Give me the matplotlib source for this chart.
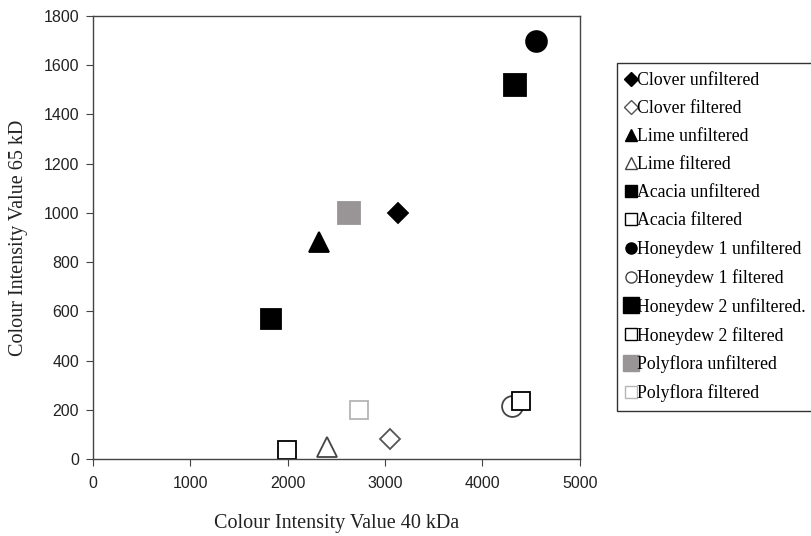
import matplotlib.pyplot as plt
from matplotlib.lines import Line2D

# series, in legend order
labels = [
    "Clover unfiltered", "Clover filtered",
    "Lime unfiltered", "Lime filtered",
    "Acacia unfiltered", "Acacia filtered",
    "Honeydew 1 unfiltered", "Honeydew 1 filtered",
    "Honeydew 2 unfiltered.", "Honeydew 2 filtered",
    "Polyflora unfiltered", "Polyflora filtered",
]
x_40kda = [3130, 3050, 2320, 2400, 1830, 1990, 4550, 4300, 4330, 4400, 2630, 2730]
y_65kd = [1000, 80, 880, 50, 570, 35, 1700, 215, 1520, 235, 1000, 200]

# marker, face, edge, size in plot, size in legend
styles = [
    ("D", "black", "black", 10.5, 7),
    ("D", "white", "#555555", 10.5, 7),
    ("^", "black", "black", 15, 9),
    ("^", "white", "#444444", 15, 9),
    ("s", "black", "black", 14, 8),
    ("s", "white", "black", 13, 8),
    ("o", "black", "black", 15, 8),
    ("o", "white", "#444444", 15, 8),
    ("s", "black", "black", 16.5, 11),
    ("s", "white", "black", 13, 8),
    ("s", "#999597", "#999597", 16.5, 11),
    ("s", "white", "#b5b5b5", 13, 8),
]

fig = plt.figure(figsize=(8.11, 5.36), dpi=100)
ax = fig.add_axes([0.1147, 0.1437, 0.6003, 0.8265])

handles = []
for lab, x, y, (m, fc, ec, ms, lms) in zip(labels, x_40kda, y_65kd, styles):
    ax.plot([x], [y], linestyle="none", marker=m, markersize=ms,
            markerfacecolor=fc, markeredgecolor=ec, markeredgewidth=1.3,
            clip_on=False)
    handles.append(Line2D([], [], linestyle="none", marker=m, markersize=lms,
                          markerfacecolor=fc, markeredgecolor=ec,
                          markeredgewidth=1.0, label=lab))

ax.set_xlim(0, 5000)
ax.set_ylim(0, 1800)
ax.set_xticks(range(0, 5001, 1000))
ax.set_yticks(range(0, 1801, 200))
for side in ax.spines.values():
    side.set_color("#444444")
    side.set_linewidth(1.0)
ax.tick_params(direction="out", length=5, color="#444444", labelsize=11.5, pad=5)
ax.tick_params(axis="x", pad=7)
for t in ax.get_xticklabels() + ax.get_yticklabels():
    t.set_fontfamily("Liberation Sans")
    t.set_color("#222222")

ax.set_xlabel("Colour Intensity Value 40 kDa", fontfamily="Liberation Serif",
              fontsize=14.5, labelpad=17, color="#222222")
ax.set_ylabel("Colour Intensity Value 65 kD", fontfamily="Liberation Serif",
              fontsize=14.5, labelpad=11, color="#222222")

leg = fig.legend(handles=handles, loc="upper left",
                 bbox_to_anchor=(617 / 811, 1 - 63 / 536),
                 prop={"family": "Liberation Serif", "size": 12.8},
                 frameon=True, fancybox=False, handlelength=0.55,
                 handletextpad=0.05, labelspacing=0.62, borderpad=0.5,
                 borderaxespad=0)
leg.get_frame().set_edgecolor("black")
leg.get_frame().set_linewidth(1.0)

fig.savefig("out.png", dpi=100)
